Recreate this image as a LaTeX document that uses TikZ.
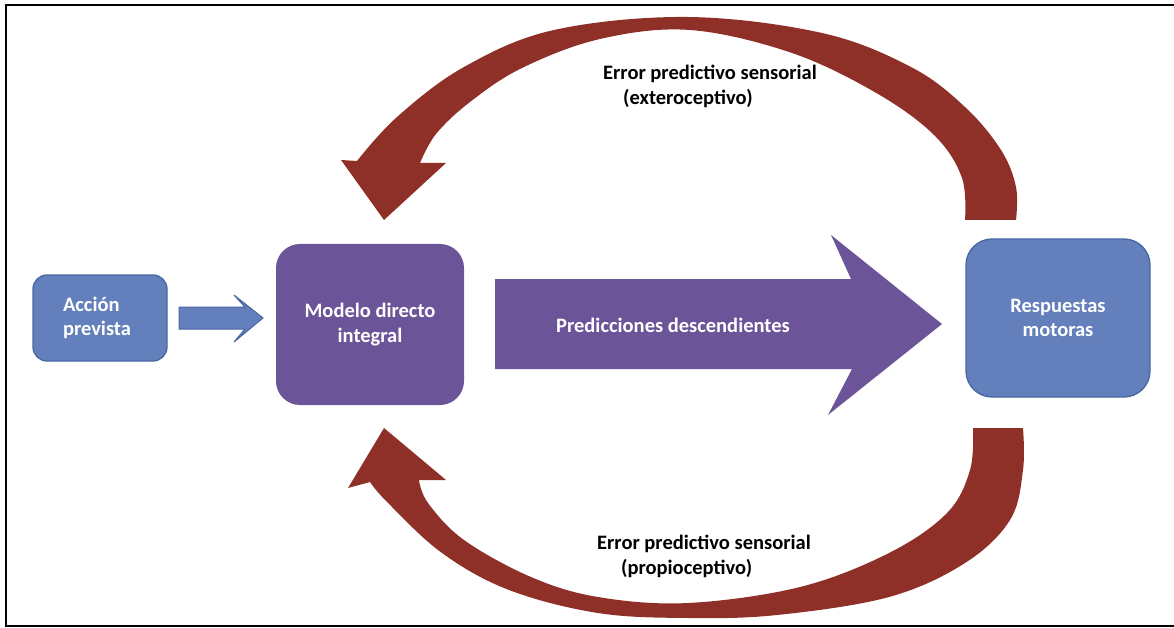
\documentclass[tikz,border=0pt]{standalone}
\usepackage{fontspec}
\setmainfont{Carlito}
\definecolor{boxblue}{RGB}{99,128,189}
\definecolor{boxedge}{RGB}{72,102,160}
\definecolor{modpurple}{RGB}{108,84,153}
\definecolor{errred}{RGB}{143,48,40}
\begin{document}
\begin{tikzpicture}[x=1pt,y=-1pt,
  lbl/.style={font=\bfseries\fontsize{20.5}{24.5}\selectfont},
  errlbl/.style={font=\bfseries\fontsize{20.5}{25}\selectfont, text=black,
    inner sep=0pt, anchor=north west, align=left},
  bluebox/.style={lbl, fill=boxblue, draw=boxedge, line width=1.3pt, text=white},
  purplebox/.style={lbl, fill=modpurple, text=white},
  errarrow/.style={fill=errred},
  curve/.style={smooth, tension=0.6}]
\useasboundingbox (0,0) rectangle (1174,628);

% outer frame (open on the right)
\draw[line width=1.8pt] (1176,5) -- (6,5) -- (6,626) -- (1176,626);

% boxes
\node[bluebox, rounded corners=14pt, text width=74pt, inner xsep=30pt,
      minimum height=86pt, align=left] (accion) at (100,318) {Acción\\prevista};
\node[purplebox, rounded corners=24pt, minimum width=188pt, minimum height=161pt,
      align=center] (modelo) at (370,324.5) {Modelo directo\\integral};
\node[bluebox, rounded corners=26pt, minimum width=184pt, minimum height=158pt,
      align=center] (resp) at (1058,318) {Respuestas\\motoras};

% small input arrow
\fill[boxblue, draw=boxedge, line width=1pt]
  (179,307) -- (245,307) -- (234,295) -- (263,318) -- (234,342) -- (245,329) -- (179,329) -- cycle;

% large prediction arrow
\fill[modpurple]
  (495,279) -- (851,279) -- (831,235) -- (942,324) -- (828,415) -- (852,369) -- (495,369) -- cycle;
\node[lbl, text=white, anchor=base] (pred) at (673,332) {Predicciones descendientes};

% upper curved arrow (exteroceptive error)
\fill[errarrow]
  plot[curve] coordinates {(965,220) (962,178) (935,136) (878,94) (792,53) (690,30)
                           (600,39) (522,68) (470,102) (436,134) (420,163)}
  -- (446,163) -- (384,220) -- (341,160) -- (357,161)
  -- plot[curve] coordinates {(357,161) (397,117) (464,67) (554,30) (688,17) (822,33)
                              (911,67) (965,107) (1001,150) (1016,187) (1016,220)}
  -- cycle;
\node[errlbl] (extero) at (603,64.5)
  {Error predictivo sensorial\\\hspace*{20pt}(exteroceptivo)};

% lower curved arrow (proprioceptive error)
\fill[errarrow]
  plot[curve] coordinates {(973,428) (970,470) (947,513) (889,553) (800,587) (688,603)
                           (598,597) (531,577) (464,540) (428,503) (419,480)}
  -- (446,480) -- (384,428) -- (348,488) -- (370,482)
  -- plot[curve] coordinates {(370,482) (388,503) (442,553) (509,590) (598,613) (688,618)
                              (777,615) (889,597) (965,563) (1010,520) (1023,470) (1023,428)}
  -- cycle;
\node[errlbl] (propio) at (597,534.5)
  {Error predictivo sensorial\\\hspace*{24pt}(propioceptivo)};
\end{tikzpicture}
\end{document}
